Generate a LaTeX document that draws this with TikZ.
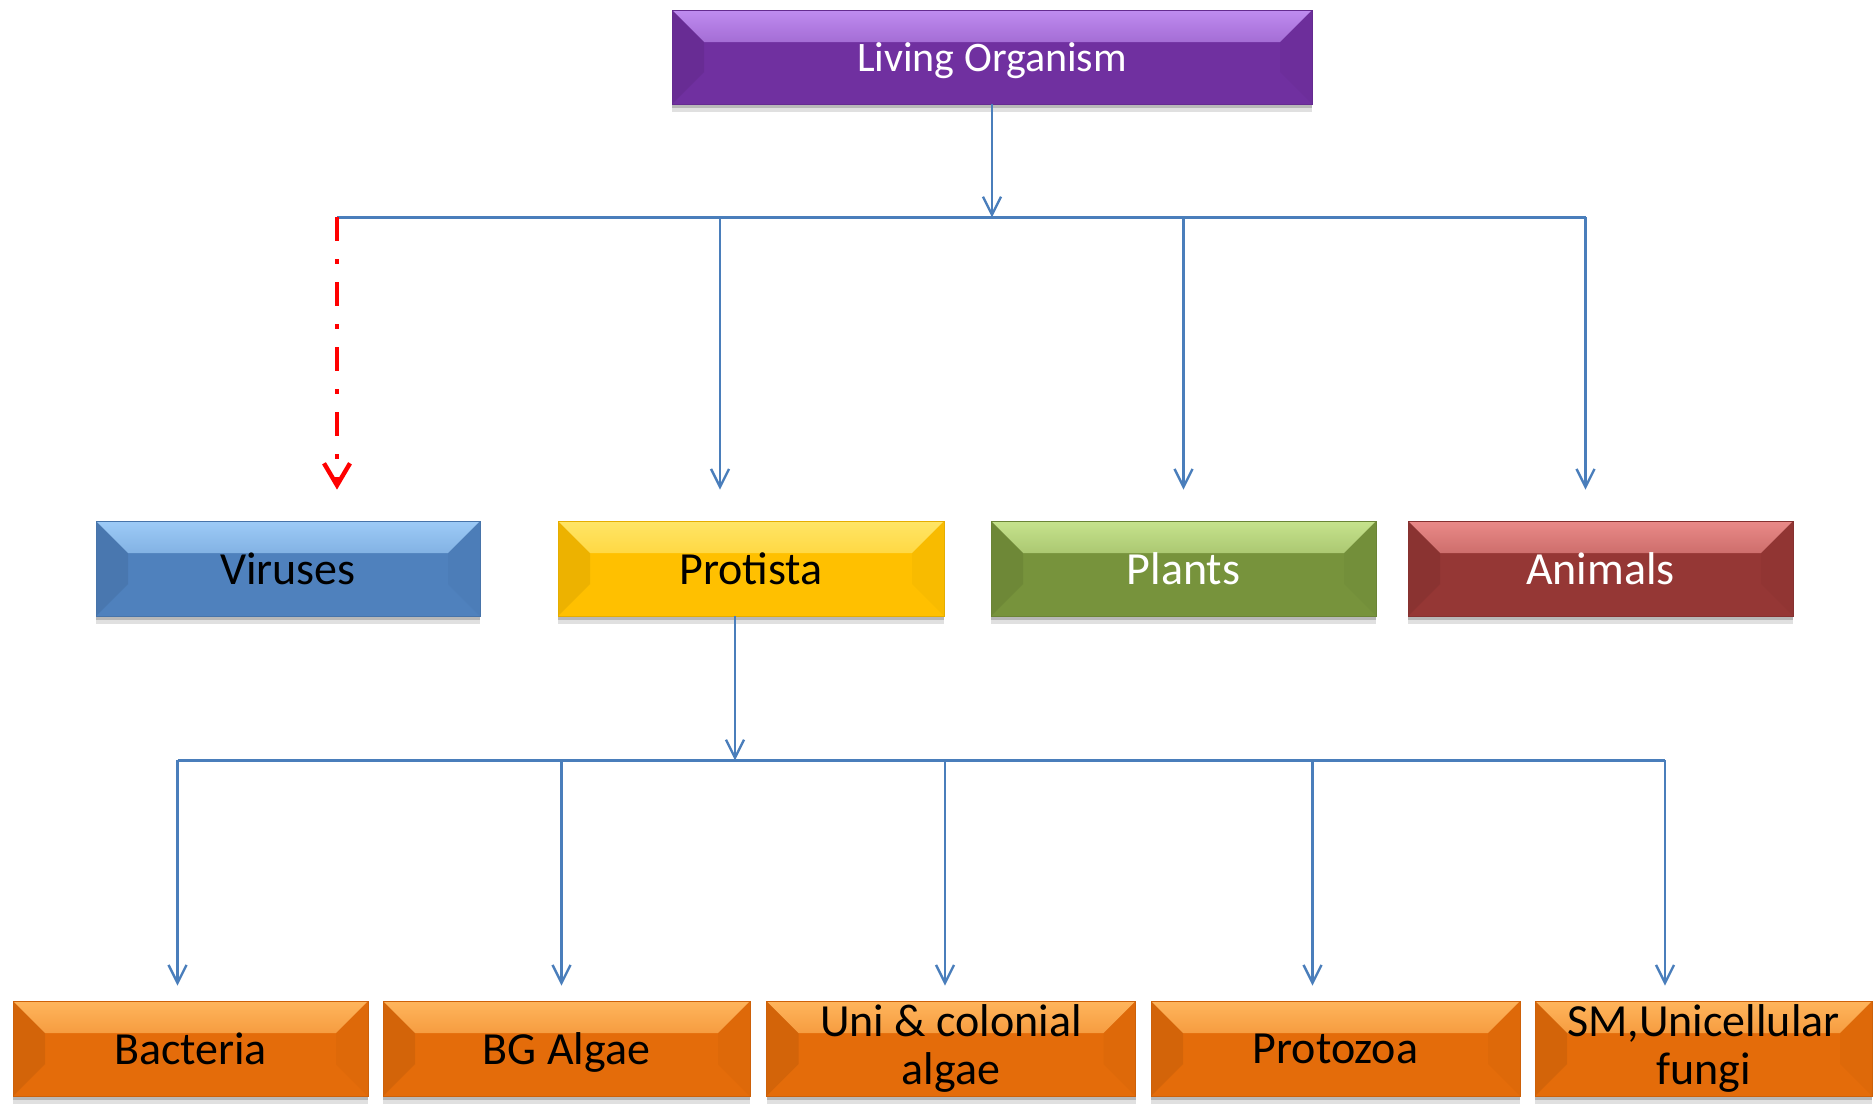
\documentclass[tikz,border=0pt]{standalone}
\usepackage{fontspec}
\setmainfont{Carlito}
\usetikzlibrary{positioning,calc,arrows.meta,shadows}
\definecolor{lineblue}{HTML}{4A7EBB}
\definecolor{livc}{HTML}{7030A0}
\definecolor{livl}{HTML}{BF8CF0}
\definecolor{virc}{HTML}{4F81BD}
\definecolor{virl}{HTML}{9DCBF7}
\definecolor{proc}{HTML}{FFC000}
\definecolor{prol}{HTML}{FFE566}
\definecolor{plac}{HTML}{77933C}
\definecolor{plal}{HTML}{C6E38D}
\definecolor{anic}{HTML}{953735}
\definecolor{anil}{HTML}{EA8A88}
\definecolor{subc}{HTML}{E46C0A}
\definecolor{subl}{HTML}{FFB55C}
\newcommand{\toptext}{\fontsize{21}{25}\selectfont}
\newcommand{\boxtext}{\fontsize{23}{25}\selectfont}
\tikzset{
  orgbox/.style 2 args={minimum height=47.5pt, inner sep=0pt, align=center,
    fill=#1, draw=#1!90!black, line width=0.4pt, font=\boxtext,
    drop shadow={shadow xshift=0pt, shadow yshift=-4pt, opacity=.12, fill=black},
    drop shadow={shadow xshift=0pt, shadow yshift=-2pt, opacity=.18, fill=black},
    path picture={
      \fill[top color=#2, bottom color=#1]
        (path picture bounding box.north west) -- (path picture bounding box.north east)
        -- ++(-32,32) -- ($(path picture bounding box.north west)+(32,32)$) -- cycle;
      \fill[#1!80!black, opacity=.35]
        (path picture bounding box.north west) -- ++(32,32)
        -- ($(path picture bounding box.south west)+(32,-32)$)
        -- (path picture bounding box.south west) -- cycle;
      \fill[#1!90!black, opacity=.25]
        (path picture bounding box.north east) -- ++(-32,32)
        -- ($(path picture bounding box.south east)+(-32,-32)$)
        -- (path picture bounding box.south east) -- cycle;
    }},
  oneline/.style={text depth=0pt},
  conn/.style={draw=lineblue, line width=1.2pt, -{Straight Barb[length=9pt,width=9pt]}},
  busline/.style={draw=lineblue, line width=1.2pt},
  virarrow/.style={draw=red, line width=2.2pt, dash pattern=on 12pt off 9pt on 2.5pt off 9pt,
    -{Straight Barb[length=11pt,width=13pt]}},
}
\begin{document}
\begin{tikzpicture}[x=0.5pt, y=-0.5pt]
  \useasboundingbox (0,0) rectangle (1874,1104);
  % top
  \node[orgbox={livc}{livl}, oneline, minimum width=320pt, minimum height=47pt, text=white, font=\toptext] (liv) at (992,57) {Living Organism};
  % kingdoms
  \node[orgbox={virc}{virl}, oneline, minimum width=192pt] (vir) at (288,568.5) {Viruses};
  \node[orgbox={proc}{prol}, oneline, minimum width=193pt] (prot) at (751,568.5) {Protista};
  \node[orgbox={plac}{plal}, oneline, minimum width=192.5pt, text=white] (pla) at (1183.5,568.5) {Plants};
  \node[orgbox={anic}{anil}, oneline, minimum width=192.5pt, text=white] (ani) at (1600.5,568.5) {Animals};
  % protista groups
  \node[orgbox={subc}{subl}, oneline, minimum width=177.5pt] (bac) at (190.5,1048.5) {Bacteria};
  \node[orgbox={subc}{subl}, oneline, minimum width=183.5pt] (bga) at (566.5,1048.5) {BG Algae};
  \node[orgbox={subc}{subl}, minimum width=184.5pt] (uni) at (951,1048.5) {Uni \& colonial\\[-1pt]algae};
  \node[orgbox={subc}{subl}, oneline, minimum width=184.5pt] (pzo) at (1335.5,1048.5) {Protozoa};
  \node[orgbox={subc}{subl}, minimum width=168.5pt] (smf) at (1703.5,1048.5) {SM,Unicellular\\[-1pt]fungi};
  % first level connectors
  \coordinate (bus1) at ($(liv.south)+(0,113)$);
  \coordinate (vtip) at ($(vir.north)+(49,-31)$);
  \coordinate (ptip) at ($(prot.north)+(-31,-31)$);
  \coordinate (ltip) at ($(pla.north)+(0,-31)$);
  \coordinate (atip) at ($(ani.north)+(-15,-31)$);
  \draw[conn] (liv) -- (bus1);
  \draw[busline] (vtip |- bus1) -- (atip |- bus1);
  \draw[virarrow] (vtip |- bus1) -- (vtip);
  \draw[conn] (ptip |- bus1) -- (ptip);
  \draw[conn] (ltip |- bus1) -- (ltip);
  \draw[conn] (atip |- bus1) -- (atip);
  % second level connectors
  \coordinate (bus2) at ($(prot.south)+(-16,144)$);
  \coordinate (btip) at ($(bac.north)+(-13,-15)$);
  \coordinate (gtip) at ($(bga.north)+(-5,-15)$);
  \coordinate (utip) at ($(uni.north)+(-6,-15)$);
  \coordinate (ztip) at ($(pzo.north)+(-23,-15)$);
  \coordinate (stip) at ($(smf.north)+(-38.5,-15)$);
  \draw[conn] (prot.south -| bus2) -- (bus2);
  \draw[busline] (btip |- bus2) -- (stip |- bus2);
  \foreach \t in {btip,gtip,utip,ztip,stip}
    \draw[conn] (\t |- bus2) -- (\t);
\end{tikzpicture}
\end{document}
